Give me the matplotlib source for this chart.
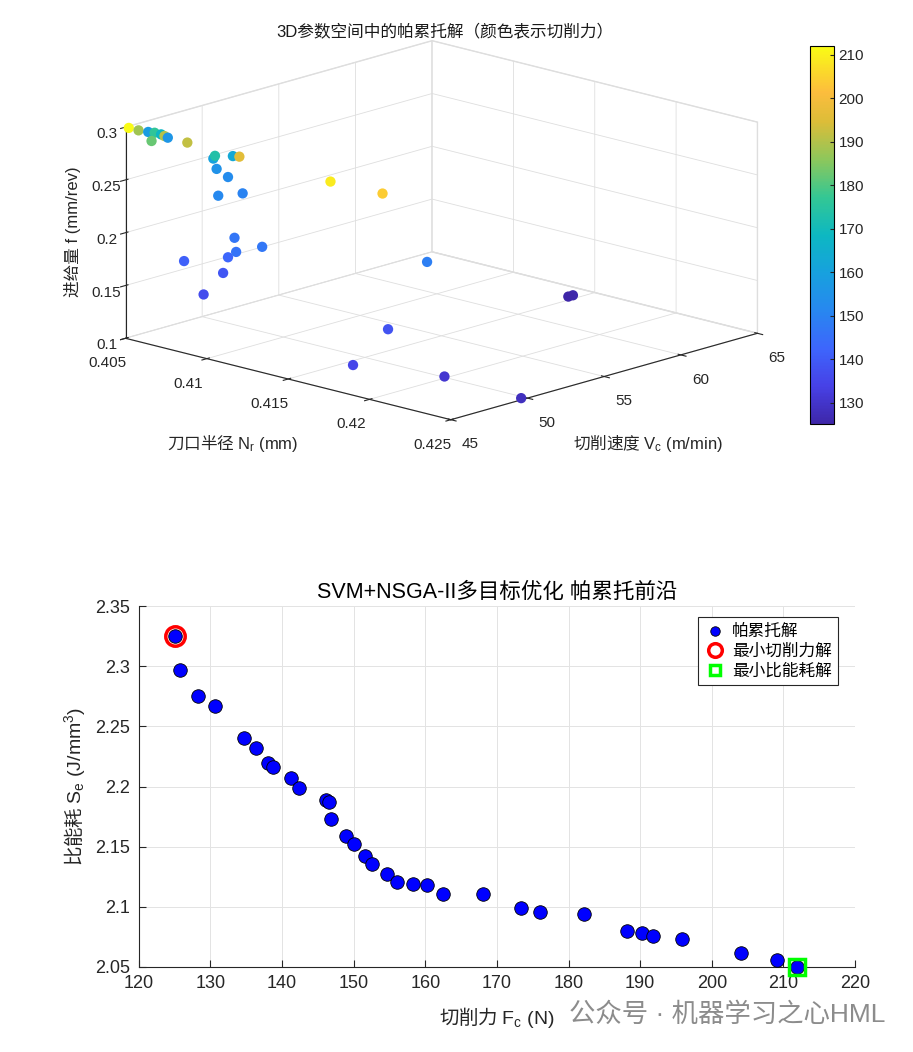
import matplotlib
matplotlib.use("Agg")
import matplotlib.pyplot as plt
import numpy as np
from matplotlib.colors import LinearSegmentedColormap
from matplotlib.ticker import FormatStrFormatter

plt.rcParams["font.family"] = ["Liberation Sans", "Noto Sans CJK SC"]
plt.rcParams["mathtext.fontset"] = "custom"
plt.rcParams["mathtext.rm"] = "Liberation Sans"
plt.rcParams["mathtext.it"] = "Liberation Sans"
plt.rcParams["axes.unicode_minus"] = False
plt.rcParams["grid.color"] = "#dedede"
plt.rcParams["grid.linewidth"] = 0.6

CJK = "Noto Sans CJK SC"

# Pareto solutions (sorted by cutting force)
fc = [125.1, 125.7, 128.2, 130.7, 134.7, 136.4, 138.1, 138.8, 141.3, 142.4,
      146.1, 146.5, 146.8, 149.0, 150.1, 151.6, 152.6, 154.6, 156.0, 158.3,
      160.2, 162.5, 168.1, 173.3, 176.0, 182.2, 188.1, 190.3, 191.8, 195.8,
      204.1, 209.1, 211.9]
se = [2.325, 2.297, 2.275, 2.267, 2.240, 2.232, 2.220, 2.216, 2.207, 2.199,
      2.189, 2.187, 2.173, 2.159, 2.152, 2.142, 2.136, 2.127, 2.121, 2.119,
      2.118, 2.111, 2.111, 2.099, 2.096, 2.094, 2.080, 2.078, 2.076, 2.073,
      2.062, 2.056, 2.050]
# decision variables for the same solutions
nr = [0.4146, 0.4146, 0.4248, 0.4198, 0.4155, 0.4098, 0.4136, 0.4110, 0.4086, 0.4113,
      0.4118, 0.4117, 0.4134, 0.4160, 0.4122, 0.4107, 0.4113, 0.4106, 0.4076, 0.4063,
      0.4104, 0.4116, 0.4070, 0.4105, 0.4066, 0.4066, 0.4058, 0.4073, 0.4088, 0.4120,
      0.4208, 0.4176, 0.4052]
vc = [63.7, 64.0, 49.8, 50.1, 48.7, 45.0, 53.0, 45.0, 45.0, 45.0,
      45.0, 45.0, 45.0, 53.0, 45.0, 45.0, 45.0, 45.0, 45.0, 45.1,
      45.0, 45.0, 45.2, 45.0, 45.2, 45.0, 45.0, 45.1, 45.0, 45.0,
      45.0, 45.0, 45.0]
feed = [0.100, 0.100, 0.100, 0.100, 0.100, 0.160, 0.109, 0.185, 0.187, 0.201,
        0.208, 0.221, 0.219, 0.182, 0.265, 0.257, 0.277, 0.282, 0.300, 0.300,
        0.291, 0.298, 0.300, 0.294, 0.300, 0.293, 0.300, 0.300, 0.300, 0.299,
        0.298, 0.297, 0.300]

x_ticks_3d = [0.405, 0.41, 0.415, 0.42, 0.425]
y_ticks_3d = [45, 50, 55, 60, 65]
z_ticks_3d = [0.1, 0.15, 0.2, 0.25, 0.3]
cbar_ticks = [130, 140, 150, 160, 170, 180, 190, 200, 210]

parula = LinearSegmentedColormap.from_list("parula_like", [
    (0.00, (0.2422, 0.1504, 0.6603)),
    (0.10, (0.2783, 0.2560, 0.9052)),
    (0.20, (0.2400, 0.4000, 0.9900)),
    (0.30, (0.1540, 0.5300, 0.9400)),
    (0.40, (0.0900, 0.6300, 0.8700)),
    (0.50, (0.0500, 0.7200, 0.7600)),
    (0.60, (0.2000, 0.7800, 0.5800)),
    (0.70, (0.5500, 0.7800, 0.3600)),
    (0.80, (0.8600, 0.7400, 0.2200)),
    (0.88, (0.9900, 0.7400, 0.2400)),
    (1.00, (0.9769, 0.9839, 0.0805)),
])

fig = plt.figure(figsize=(9.13, 10.52), dpi=100)

# ---------- 3D scatter ----------
ax3 = fig.add_axes([0.047, 0.5655, 0.86, 0.42], projection="3d")
ax3.patch.set_visible(False)
ax3.set_proj_type("ortho")
ax3.view_init(elev=15.4, azim=-46.7)
ax3.set_box_aspect((1, 1, 0.49), zoom=1.47)
sc = ax3.scatter(nr, vc, feed, c=fc, cmap=parula, vmin=min(fc), vmax=max(fc),
                 s=55, depthshade=False, edgecolors="none", alpha=1)
sc.set_clip_on(False)
ax3.set_xlim(0.405, 0.425)
ax3.set_ylim(45, 65)
ax3.set_zlim(0.1, 0.3)
ax3.set_xticks(x_ticks_3d)
ax3.set_yticks(y_ticks_3d)
ax3.set_zticks(z_ticks_3d)
for axis in (ax3.xaxis, ax3.yaxis, ax3.zaxis):
    axis.set_major_formatter(FormatStrFormatter("%g"))
    axis.set_pane_color((1, 1, 1, 1))
    axis.pane.set_edgecolor("#dedede")
    axis.line.set_color("#262626")
    axis.line.set_linewidth(0.8)
ax3.zaxis.set_ticks_position("lower")
ax3.tick_params(labelsize=11, colors="#262626", pad=2)
ax3.zaxis.set_tick_params(pad=-3)
fig.text(445 / 913, 1 - 32 / 1052, "3D参数空间中的帕累托解（颜色表示切削力）",
         fontsize=12, ha="center", va="center", color="#1a1a1a")
fig.text(233 / 913, 1 - 443 / 1052, r"刀口半径 $\mathrm{N_r\ (mm)}$", fontsize=12,
         family=CJK, ha="center", va="center", color="#262626")
fig.text(648 / 913, 1 - 443 / 1052, r"切削速度 $\mathrm{V_c\ (m/min)}$", fontsize=12,
         family=CJK, ha="center", va="center", color="#262626")
fig.text(72 / 913, 1 - 232 / 1052, "进给量 f (mm/rev)", fontsize=12, rotation=90,
         ha="center", va="center", color="#262626")

cax = fig.add_axes([0.887, 0.597, 0.026, 0.359])
cb = fig.colorbar(sc, cax=cax, ticks=cbar_ticks)
cb.ax.tick_params(labelsize=11, direction="in", length=3, colors="#262626")
cb.outline.set_linewidth(0.8)

# ---------- 2D Pareto front ----------
ax2 = fig.add_axes([0.152, 0.0808, 0.7845, 0.343])
ax2.scatter(fc, se, s=95, c="blue", edgecolors="black", linewidths=0.6,
            label="帕累托解", zorder=3, clip_on=False)
i_fc = int(np.argmin(fc))
i_se = int(np.argmin(se))
ax2.plot(fc[i_fc], se[i_fc], "o", mfc="none", mec="red", ms=14, mew=2.5,
         label="最小切削力解", zorder=4, clip_on=False)
ax2.plot(fc[i_se], se[i_se], "s", mfc="none", mec=(0, 1, 0), ms=11, mew=2.5,
         label="最小比能耗解", zorder=4, clip_on=False)
ax2.set_xlim(120, 220)
ax2.set_ylim(2.05, 2.35)
ax2.set_xticks(np.arange(120, 221, 10))
ax2.set_yticks([2.05, 2.1, 2.15, 2.2, 2.25, 2.3, 2.35])
ax2.yaxis.set_major_formatter(FormatStrFormatter("%g"))
ax2.grid(True, color="#e3e3e3", linewidth=0.7)
ax2.set_axisbelow(True)
for side in ("top", "right"):
    ax2.spines[side].set_visible(False)
for side in ("left", "bottom"):
    ax2.spines[side].set_color("#262626")
    ax2.spines[side].set_linewidth(0.8)
ax2.tick_params(direction="in", labelsize=13, colors="#262626", length=5, pad=6)
ax2.set_title("SVM+NSGA-II多目标优化 帕累托前沿", fontsize=15.5, pad=6)
ax2.set_xlabel(r"切削力 $\mathrm{F_c\ (N)}$", fontsize=14, family=CJK,
               color="#262626", labelpad=9)
ax2.set_ylabel(r"比能耗 $\mathrm{S_e\ (J/mm^3)}$", fontsize=14, family=CJK,
               color="#262626", labelpad=6)
leg = ax2.legend(loc="upper right", fontsize=12, fancybox=False, framealpha=1,
                 edgecolor="#262626", borderpad=0.35, handletextpad=0.4,
                 labelspacing=0.3, handlelength=1.3, markerscale=0.7,
                 bbox_to_anchor=(0.9876, 0.9917))
leg.get_frame().set_linewidth(0.8)

fig.text(0.97, 1 - 1015 / 1052, "公众号 · 机器学习之心HML", fontsize=19,
         color="#8c8c8c", ha="right", va="center")

fig.savefig("out.png", dpi=100)
